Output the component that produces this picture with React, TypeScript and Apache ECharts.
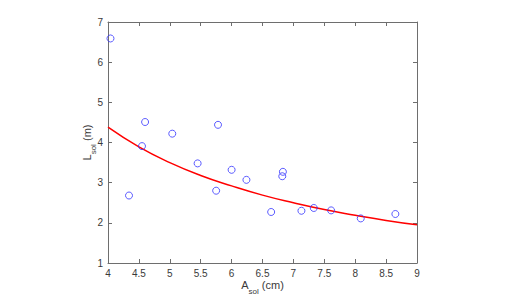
import React, { useEffect, useRef } from "react";
import * as echarts from "echarts";

const areaX = [4.04, 4.6, 5.04, 5.78, 4.55, 4.34, 5.45, 5.75, 6.0, 6.24, 6.64, 6.83, 6.82, 7.13, 7.33, 7.61, 8.09, 8.65];
const lengthY = [6.59, 4.51, 4.22, 4.44, 3.91, 2.68, 3.48, 2.8, 3.32, 3.07, 2.27, 3.27, 3.16, 2.3, 2.37, 2.31, 2.11, 2.22];

const fitX = [4, 4.5, 5, 5.5, 6, 6.5, 7, 7.5, 8, 8.5, 9];
const fitY = [4.38, 3.89, 3.5, 3.18, 2.92, 2.69, 2.5, 2.33, 2.19, 2.06, 1.95];

const xTicks = { min: 4, max: 9, interval: 0.5 };
const yTicks = { min: 1, max: 7, interval: 1 };

const AXIS_COLOR = "#6e6e6e";
const LABEL_COLOR = "#3a3a3a";
const FONT = "'Liberation Sans', Arial, sans-serif";

export default function App() {
  const ref = useRef<HTMLDivElement>(null);
  useEffect(() => {
    if (!ref.current) return;
    const chart = echarts.init(ref.current, undefined, { renderer: "svg" });
    const lineStyle = { color: AXIS_COLOR, width: 1 };
    const baseX = {
      type: "value" as const,
      min: xTicks.min,
      max: xTicks.max,
      interval: xTicks.interval,
      splitLine: { show: false },
      axisLine: { show: true, lineStyle },
      axisTick: { show: true, inside: true, length: 4, lineStyle },
    };
    const baseY = {
      type: "value" as const,
      min: yTicks.min,
      max: yTicks.max,
      interval: yTicks.interval,
      splitLine: { show: false },
      axisLine: { show: true, lineStyle },
      axisTick: { show: true, inside: true, length: 4, lineStyle },
    };
    const richText = {
      a: { fontSize: 11, fontFamily: FONT, color: LABEL_COLOR, lineHeight: 20, verticalAlign: "middle" as const },
      s: { fontSize: 8, fontFamily: FONT, color: LABEL_COLOR, lineHeight: 10, verticalAlign: "bottom" as const },
    };
    chart.setOption({
      animation: false,
      backgroundColor: "#ffffff",
      grid: { left: 108, right: 90, top: 22, bottom: 33, containLabel: false },
      xAxis: [
        {
          ...baseX,
          position: "bottom",
          axisLabel: { color: LABEL_COLOR, fontSize: 10, fontFamily: FONT, margin: 5 },
          name: "{a|A}{s|sol}{a| (cm)}",
          nameLocation: "middle",
          nameGap: 12,
          nameMoveOverlap: false,
          nameTextStyle: { rich: richText },
        },
        { ...baseX, position: "top", axisLabel: { show: false } },
      ],
      yAxis: [
        {
          ...baseY,
          position: "left",
          axisLabel: { color: LABEL_COLOR, fontSize: 10, fontFamily: FONT, margin: 5 },
          name: "{a|L}{s|sol}{a| (m)}",
          nameLocation: "middle",
          nameGap: 11,
          nameMoveOverlap: false,
          nameTextStyle: { rich: richText },
        },
        { ...baseY, position: "right", axisLabel: { show: false } },
      ],
      series: [
        {
          type: "scatter",
          data: areaX.map((x, i) => [x, lengthY[i]]),
          symbol: "circle",
          symbolSize: 7,
          itemStyle: { color: "transparent", borderColor: "#3333ff", borderWidth: 1 },
          z: 3,
        },
        {
          type: "line",
          data: fitX.map((x, i) => [x, fitY[i]]),
          smooth: true,
          showSymbol: false,
          symbol: "none",
          lineStyle: { color: "#ff0000", width: 1.5 },
          z: 2,
        },
      ],
    });
    return () => chart.dispose();
  }, []);
  return <div ref={ref} style={{ width: 507, height: 300, position: "absolute", left: 0, top: 0 }} />;
}
